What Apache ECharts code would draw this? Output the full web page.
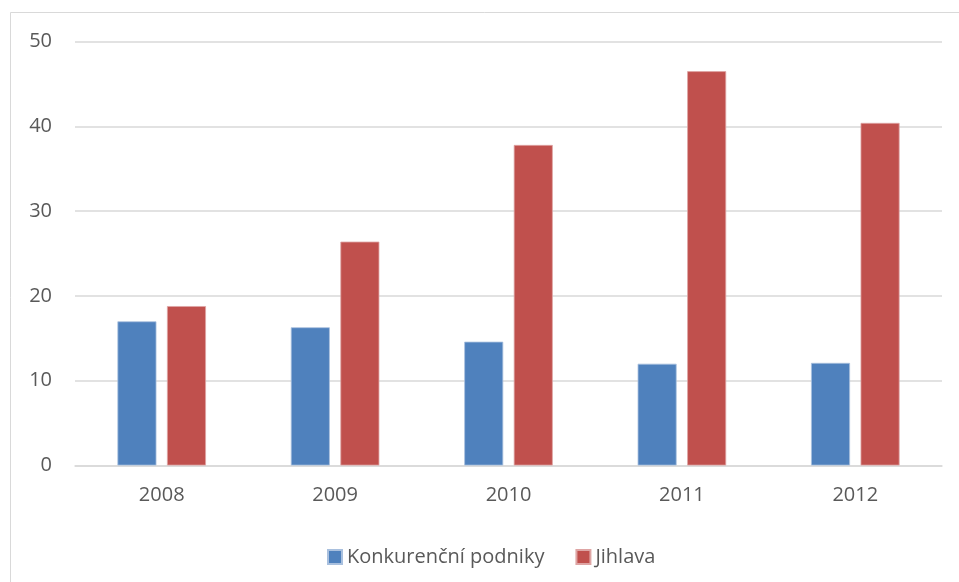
<!DOCTYPE html>
<html>
<head>
<meta charset="utf-8">
<script src="https://cdn.jsdelivr.net/npm/echarts@6/dist/echarts.min.js"></script>
<style>html,body{margin:0;padding:0;background:#fff}#c{width:959px;height:582px}</style>
</head>
<body>
<div id="c"></div>
<script>
const categories = ['2008', '2009', '2010', '2011', '2012'];
const konkurencni = [17.0, 16.3, 14.6, 12.0, 12.1];
const jihlava = [18.8, 26.4, 37.8, 46.5, 40.4];
const yTicks = [0, 10, 20, 30, 40, 50];

const chart = echarts.init(document.getElementById('c'));
const font = '"Open Sans", "Noto Sans", sans-serif';
chart.setOption({
  backgroundColor: '#fff',
  animation: false,
  textStyle: { fontFamily: font },
  graphic: [{
    type: 'polyline',
    shape: { points: [[10.5, 582], [10.5, 12.5], [959, 12.5]] },
    style: { stroke: '#d9d9d9', lineWidth: 1, fill: null }
  }],
  grid: { left: 75, right: 17, top: 41.5, bottom: 116.5, containLabel: false },
  legend: {
    left: 322, top: 542,
    itemWidth: 14, itemHeight: 14, itemGap: 31,
    icon: 'rect',
    textStyle: { fontSize: 20, color: '#595959', fontFamily: font },
    data: ['Konkurenční podniky', 'Jihlava']
  },
  xAxis: {
    type: 'category',
    data: categories,
    axisLine: { lineStyle: { color: '#d9d9d9', width: 1.5 } },
    axisTick: { show: false },
    axisLabel: { color: '#595959', fontSize: 20, margin: 20, fontFamily: font }
  },
  yAxis: {
    type: 'value',
    min: yTicks[0], max: yTicks[yTicks.length - 1], interval: 10,
    axisLine: { show: false },
    axisTick: { show: false },
    axisLabel: { color: '#595959', fontSize: 20, margin: 23, fontFamily: font },
    splitLine: { lineStyle: { color: '#d9d9d9', width: 1.5 } }
  },
  series: [
    {
      name: 'Konkurenční podniky', type: 'bar', data: konkurencni,
      barWidth: '22.5%', barGap: '27%',
      itemStyle: { color: '#4f81bd', borderColor: '#a9c0de', borderWidth: 0.8 }
    },
    {
      name: 'Jihlava', type: 'bar', data: jihlava,
      barWidth: '22.5%', barGap: '27%',
      itemStyle: { color: '#c0504d', borderColor: '#dea5a4', borderWidth: 0.8 }
    }
  ]
});
</script>
</body>
</html>
